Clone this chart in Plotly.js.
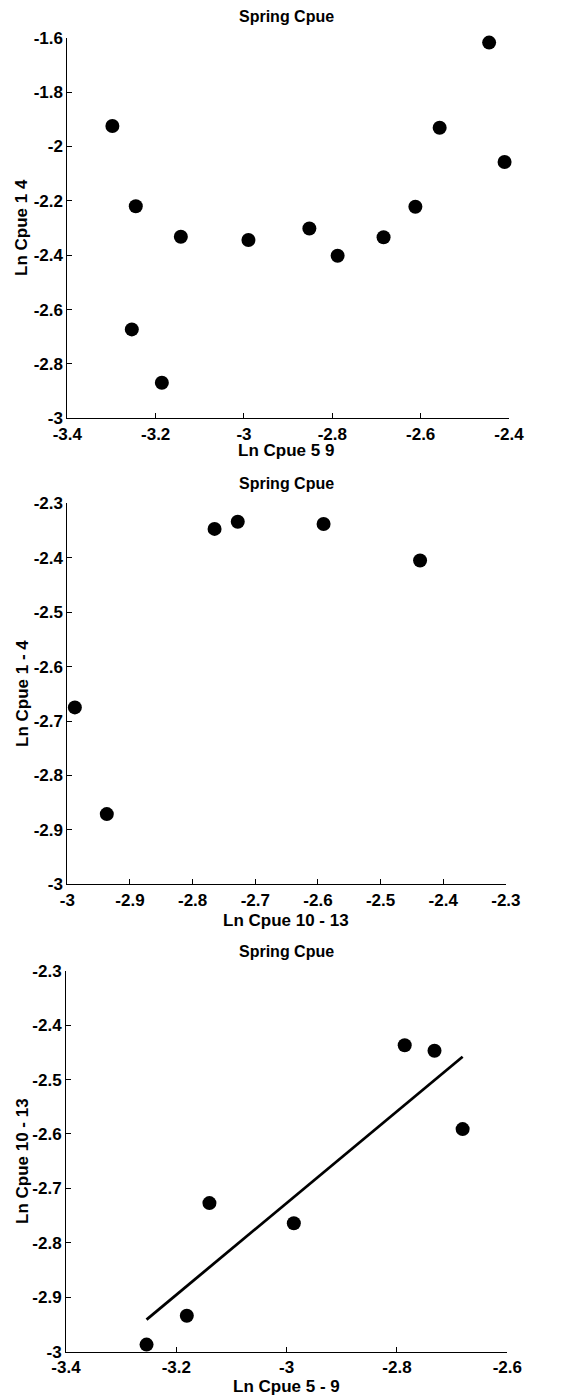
<!DOCTYPE html>
<html>
<head>
<meta charset="utf-8">
<script src="https://cdn.plot.ly/plotly-3.0.1.min.js"></script>
<style>html,body{margin:0;padding:0;background:#fff;}</style>
</head>
<body>
<div id="chart" style="width:571px;height:1400px;"></div>
<script>
// Panel 1: Ln Cpue 5 9 vs Ln Cpue 1 4
const p1x = [-3.298, -3.245, -3.254, -3.186, -3.143, -2.990, -2.852, -2.788, -2.684, -2.612, -2.557, -2.445, -2.410];
const p1y = [-1.925, -2.220, -2.673, -2.869, -2.332, -2.344, -2.302, -2.402, -2.334, -2.222, -1.931, -1.618, -2.057];
// Panel 2: Ln Cpue 10 - 13 vs Ln Cpue 1 - 4
const p2x = [-2.988, -2.937, -2.765, -2.728, -2.591, -2.437];
const p2y = [-2.675, -2.871, -2.347, -2.334, -2.338, -2.405];
// Panel 3: Ln Cpue 5 - 9 vs Ln Cpue 10 - 13
const p3x = [-3.254, -3.181, -3.140, -2.987, -2.786, -2.732, -2.681];
const p3y = [-2.987, -2.934, -2.727, -2.764, -2.437, -2.447, -2.591];

const titles = ["Spring Cpue", "Spring Cpue", "Spring Cpue"];
const xTitles = ["Ln Cpue 5 9", "Ln Cpue 10 - 13", "Ln Cpue 5 - 9"];
const yTitles = ["Ln Cpue 1 4", "Ln Cpue 1 - 4", "Ln Cpue 10 - 13"];

const x1Ticks = [-3.4, -3.2, -3, -2.8, -2.6, -2.4];
const x1Text = ["-3.4", "-3.2", "-3", "-2.8", "-2.6", "-2.4"];
const y1Ticks = [-3, -2.8, -2.6, -2.4, -2.2, -2, -1.8, -1.6];
const y1Text = ["-3", "-2.8", "-2.6", "-2.4", "-2.2", "-2", "-1.8", "-1.6"];
const x2Ticks = [-3, -2.9, -2.8, -2.7, -2.6, -2.5, -2.4, -2.3];
const x2Text = ["-3", "-2.9", "-2.8", "-2.7", "-2.6", "-2.5", "-2.4", "-2.3"];
const y2Ticks = [-3, -2.9, -2.8, -2.7, -2.6, -2.5, -2.4, -2.3];
const y2Text = ["-3", "-2.9", "-2.8", "-2.7", "-2.6", "-2.5", "-2.4", "-2.3"];
const x3Ticks = [-3.4, -3.2, -3, -2.8, -2.6];
const x3Text = ["-3.4", "-3.2", "-3", "-2.8", "-2.6"];
const y3Ticks = y2Ticks;
const y3Text = y2Text;

// least-squares fit for panel 3
function fit(xs, ys) {
  const n = xs.length;
  const mx = xs.reduce((a, b) => a + b, 0) / n;
  const my = ys.reduce((a, b) => a + b, 0) / n;
  let sxy = 0, sxx = 0;
  for (let i = 0; i < n; i++) { sxy += (xs[i] - mx) * (ys[i] - my); sxx += (xs[i] - mx) ** 2; }
  const b = sxy / sxx, a = my - b * mx;
  const x0 = Math.min(...xs), x1 = Math.max(...xs);
  return { x: [x0, x1], y: [a + b * x0, a + b * x1] };
}
const line3 = fit(p3x, p3y);

const FONT = "Liberation Sans, Arial, sans-serif";
const mk = { color: "#000", size: 14, symbol: "circle" };

const traces = [
  { x: p1x, y: p1y, xaxis: "x", yaxis: "y", mode: "markers", type: "scatter", marker: mk, cliponaxis: false },
  { x: p2x, y: p2y, xaxis: "x2", yaxis: "y2", mode: "markers", type: "scatter", marker: mk, cliponaxis: false },
  { x: p3x, y: p3y, xaxis: "x3", yaxis: "y3", mode: "markers", type: "scatter", marker: mk, cliponaxis: false },
  { x: line3.x, y: line3.y, xaxis: "x3", yaxis: "y3", mode: "lines", type: "scatter", line: { color: "#000", width: 2.8 }, cliponaxis: false }
];

function ax(range, tv, tt, domain, anchor) {
  return {
    range: range, domain: domain, anchor: anchor,
    tickmode: "array", tickvals: tv, ticktext: tt,
    ticks: "inside", ticklen: 5, tickwidth: 1, tickcolor: "#000",
    showline: true, linecolor: "#000", linewidth: 1, mirror: false,
    showgrid: false, zeroline: false, fixedrange: true, automargin: false,
    tickfont: { family: FONT, size: 17, color: "#000", weight: "bold" }
  };
}

const tf = { family: FONT, size: 17, color: "#000", weight: "bold" };
const hf = { family: FONT, size: 16, color: "#000", weight: "bold" };
function note(text, xpx, ypx, font, angle) {
  return { text: text, xref: "paper", yref: "paper",
    x: (xpx - 66) / 443, y: 1 - ypx / 1400, xanchor: "center", yanchor: "middle",
    showarrow: false, font: font, textangle: angle || 0 };
}

const layout = {
  width: 571, height: 1400,
  margin: { l: 66, r: 62, t: 0, b: 0 },
  paper_bgcolor: "#fff", plot_bgcolor: "#fff",
  showlegend: false,
  xaxis: ax([-3.4, -2.4], x1Ticks, x1Text, [0.003, 1.0], "y"),
  yaxis: ax([-3, -1.6], y1Ticks, y1Text, [0.70121, 0.97307], "x"),
  xaxis2: ax([-3, -2.3], x2Ticks, x2Text, [0.003, 0.993], "y2"),
  yaxis2: ax([-3, -2.3], y2Ticks, y2Text, [0.36836, 0.64050], "x2"),
  xaxis3: ax([-3.4, -2.6], x3Ticks, x3Text, [0.0, 0.9962], "y3"),
  yaxis3: ax([-3, -2.3], y3Ticks, y3Text, [0.03450, 0.30664], "x3"),
  annotations: [
    note(titles[0], 286, 17, hf),
    note(titles[1], 286, 484, hf),
    note(titles[2], 286, 951, hf),
    note(xTitles[0], 286, 451, tf),
    note(xTitles[1], 286, 920, tf),
    note(xTitles[2], 286, 1386, tf),
    note(yTitles[0], 22, 228, tf, -90),
    note(yTitles[1], 22, 694, tf, -90),
    note(yTitles[2], 22, 1161, tf, -90)
  ]
};

Plotly.newPlot("chart", traces, layout, { displayModeBar: false, staticPlot: true });
</script>
</body>
</html>
